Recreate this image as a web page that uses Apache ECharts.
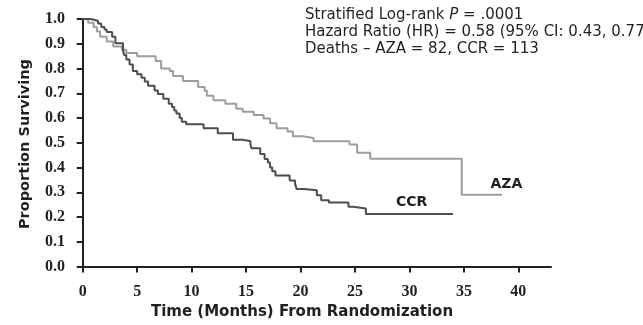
<!DOCTYPE html>
<html>
<head>
<meta charset="utf-8">
<script src="https://cdn.jsdelivr.net/npm/echarts@6/dist/echarts.min.js"></script>
<style>
  html, body { margin: 0; padding: 0; background: #fff; }
  #chart { width: 643px; height: 325px; }
</style>
</head>
<body>
<div id="chart"></div>
<script>
// Kaplan-Meier steps: month of each drop and the survival after it
const azaMonths = [0, 0.5, 1.0, 1.3, 1.6, 2.2, 2.8, 3.6, 4.0, 5.0, 6.7, 7.2, 8.0, 8.3, 9.2, 10.6, 11.2, 11.4, 12.0, 13.1, 14.1, 14.7, 15.7, 16.6, 17.2, 17.8, 18.8, 19.3, 20.3, 21.2, 24.5, 25.2, 26.4, 34.8, 38.5];
const azaSurvival = [1.0, 0.985, 0.968, 0.95, 0.928, 0.909, 0.889, 0.876, 0.863, 0.85, 0.83, 0.8, 0.79, 0.77, 0.75, 0.725, 0.71, 0.69, 0.672, 0.658, 0.638, 0.625, 0.612, 0.598, 0.579, 0.559, 0.546, 0.526, 0.519, 0.506, 0.493, 0.46, 0.436, 0.29, 0.29];

const ccrMonths = [0, 0.7, 1.4, 1.7, 2.0, 2.2, 2.7, 3.0, 3.7, 3.8, 4.0, 4.3, 4.6, 5.0, 5.4, 5.7, 6.0, 6.6, 6.9, 7.4, 7.9, 8.2, 8.4, 8.6, 8.9, 9.1, 9.5, 11.1, 12.4, 13.8, 14.7, 15.4, 15.5, 16.3, 16.7, 17.0, 17.2, 17.4, 17.7, 19.0, 19.5, 19.65, 20.3, 21.5, 21.9, 22.6, 24.4, 24.85, 26.0, 34.0];
const ccrSurvival = [1.0, 0.993, 0.982, 0.968, 0.958, 0.948, 0.928, 0.902, 0.875, 0.855, 0.836, 0.816, 0.79, 0.777, 0.763, 0.748, 0.73, 0.711, 0.697, 0.678, 0.658, 0.645, 0.63, 0.618, 0.6, 0.585, 0.575, 0.559, 0.539, 0.512, 0.506, 0.493, 0.478, 0.455, 0.435, 0.42, 0.4, 0.385, 0.368, 0.348, 0.334, 0.313, 0.308, 0.288, 0.268, 0.259, 0.242, 0.235, 0.213, 0.213];

const xTicks = [0, 5, 10, 15, 20, 25, 30, 35, 40];
const yTicks = [0, 0.1, 0.2, 0.3, 0.4, 0.5, 0.6, 0.7, 0.8, 0.9, 1.0];

// where the group names sit (month, survival)
const ccrLabelAt = [30.2, 0.26];
const azaLabelAt = [38.9, 0.333];

const notes = [
  "{t|Stratified Log-rank }{i|P}{t| = .0001}",
  "{t|Hazard Ratio (HR) = 0.58 (95% CI: 0.43, 0.77)}",
  "{t|Deaths – AZA = 82, CCR = 113}"
];

function zip(xs, ys) {
  return xs.map((x, i) => [x, ys[i]]);
}

var chartDom = document.getElementById("chart");
var myChart = echarts.init(chartDom);

var axisColor = "#231f20";
var tickFont = { fontFamily: "Liberation Serif", fontWeight: "bold", fontSize: 16, color: axisColor };
var groupLabel = { show: true, position: "inside", formatter: "{b}", fontFamily: "DejaVu Sans", fontWeight: "bold", fontSize: 14, color: axisColor };

var option = {
  animation: false,
  grid: { left: 80, right: 92, top: 19, bottom: 52 },
  xAxis: {
    type: "value",
    // axes sit a little outside the 0 ticks, as in the original figure
    min: -0.25,
    max: 43,
    name: "Time (Months) From Randomization",
    nameLocation: "middle",
    nameGap: 32,
    nameTextStyle: { padding: [0, 27, 0, 0], fontFamily: "DejaVu Sans", fontWeight: "bold", fontSize: 15, color: axisColor },
    axisLine: { show: true, lineStyle: { color: axisColor, width: 2 } },
    axisTick: { show: true, length: 6, customValues: xTicks, lineStyle: { color: axisColor, width: 2 } },
    axisLabel: Object.assign({ margin: 15, customValues: xTicks }, tickFont),
    splitLine: { show: false }
  },
  yAxis: {
    type: "value",
    min: -0.01,
    max: 1,
    name: "Proportion Surviving",
    nameLocation: "middle",
    nameGap: 47,
    nameTextStyle: { fontFamily: "DejaVu Sans", fontWeight: "bold", fontSize: 14.5, color: axisColor },
    axisLine: { show: true, lineStyle: { color: axisColor, width: 2 } },
    axisTick: { show: true, length: 6, customValues: yTicks, lineStyle: { color: axisColor, width: 2 } },
    axisLabel: Object.assign({
      margin: 15,
      customValues: yTicks,
      formatter: function (v) { return v.toFixed(1); }
    }, tickFont),
    splitLine: { show: false }
  },
  series: [
    {
      name: "AZA",
      type: "line",
      step: "end",
      showSymbol: false,
      data: zip(azaMonths, azaSurvival),
      lineStyle: { color: "#9d9d9d", width: 2 },
      markPoint: {
        symbol: "circle",
        symbolSize: 0,
        label: groupLabel,
        data: [{ name: "AZA", coord: azaLabelAt }]
      }
    },
    {
      name: "CCR",
      type: "line",
      step: "end",
      showSymbol: false,
      data: zip(ccrMonths, ccrSurvival),
      lineStyle: { color: "#4d4d4d", width: 2 },
      markPoint: {
        symbol: "circle",
        symbolSize: 0,
        label: groupLabel,
        data: [{ name: "CCR", coord: ccrLabelAt }]
      }
    }
  ],
  graphic: notes.map(function (line, i) {
    return {
      type: "text",
      left: 305,
      top: 8 + i * 17,
      style: {
        text: line,
        rich: {
          t: { fontFamily: "DejaVu Sans", fontSize: 15, fill: axisColor },
          i: { fontFamily: "DejaVu Sans", fontStyle: "italic", fontSize: 15, fill: axisColor }
        }
      }
    };
  })
};

option && myChart.setOption(option);
</script>
</body>
</html>
